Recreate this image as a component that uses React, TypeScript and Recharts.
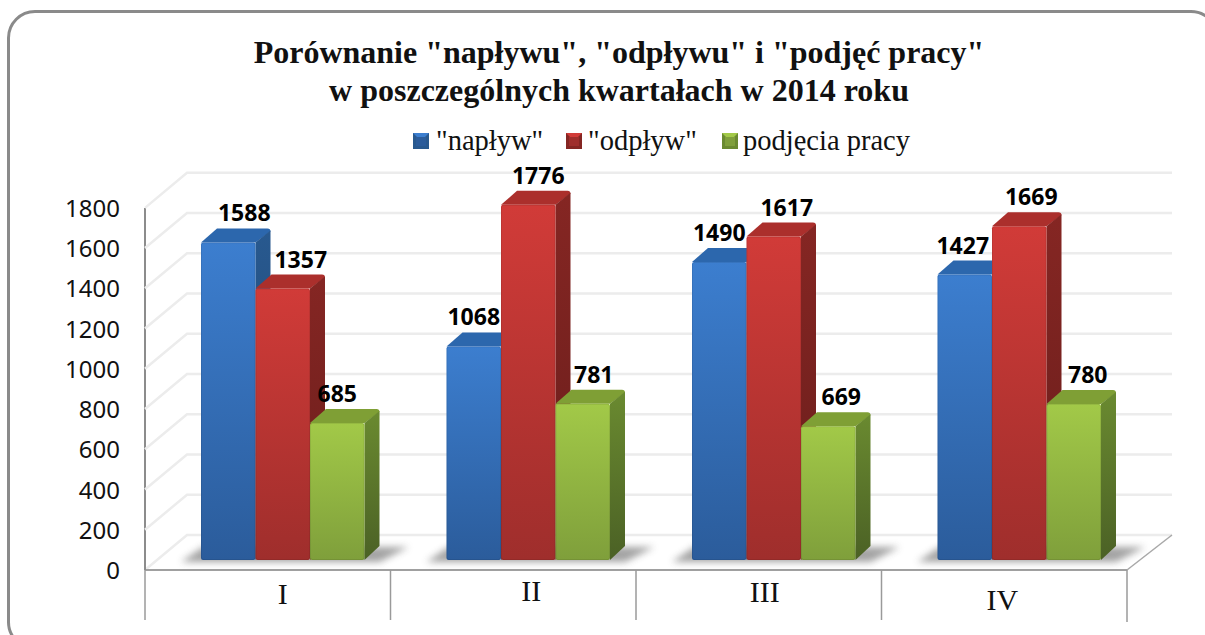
import {
  Bar,
  BarChart,
  CartesianGrid,
  LabelList,
  Legend,
  XAxis,
  YAxis,
} from 'recharts';

const quarters = ['I', 'II', 'III', 'IV'];
const inflow = [1588, 1068, 1490, 1427];
const outflow = [1357, 1776, 1617, 1669];
const jobs = [685, 781, 669, 780];
const valueTicks = [0, 200, 400, 600, 800, 1000, 1200, 1400, 1600, 1800];

const chartData = quarters.map((q, i) => ({
  quarter: q,
  inflow: inflow[i],
  outflow: outflow[i],
  jobs: jobs[i],
}));

// hand placed in the original, so the labels do not sit on a regular grid
const inflowLabelShift = [16, 0, 0, -2];
const outflowLabelShift = [18, 10, 13, 12];
const jobsLabelShift = [0, 11, 13, 14];
const quarterLabelShift = [
  { dx: 0, dy: 0 },
  { dx: 3, dy: -3 },
  { dx: -9, dy: -2 },
  { dx: -17, dy: 6 },
];

const SERIF = '"Liberation Serif", serif';
const SANS = '"Noto Sans", sans-serif';

// plot area, the 3D box is drawn around it
const FLOOR_Y = 560;
const PLOT_LEFT = 160;
const CELL = 245.5;
const FRONT_LEFT = 145;
const FRONT_RIGHT = 1127;
const BACK_LEFT = 187;
const BACK_RIGHT = 1172;
const DEPTH_X = 15;
const DEPTH_Y = 14;

const palette = {
  blue: { id: 'blue', top: '#2c67ad', side: ['#28598f', '#1f4470'], front: ['#3c7ecf', '#2b5c9b'] },
  red: { id: 'red', top: '#ab2f2c', side: ['#852623', '#691d1b'], front: ['#d13b38', '#9f2e2c'] },
  green: { id: 'green', top: '#7f9f35', side: ['#6a8a30', '#4b6125'], front: ['#a2c948', '#7f9f3b'] },
};

function wallY(y: number, floor: number) {
  return floor - (FLOOR_Y - y) * 1.006;
}

function WallLine(props: any) {
  const y = props.y1;
  const front = wallY(y, 570);
  const back = wallY(y, 535);
  const isFloor = Math.abs(y - FLOOR_Y) < 1;
  return (
    <g fill="none">
      <path d={`M${FRONT_LEFT} ${front}L${BACK_LEFT} ${back}H${BACK_RIGHT}`} stroke="#ececec" strokeWidth={2.5} />
      {isFloor && (
        <>
          <path d={`M${FRONT_RIGHT} 570L${BACK_RIGHT} 535`} stroke="#a8a8a8" strokeWidth={1.5} />
          <path d={`M${FRONT_LEFT} 570H${FRONT_RIGHT}`} stroke="#a0a0a0" strokeWidth={2} />
          <path d={`M${FRONT_LEFT} 208V570`} stroke="#8c8c8c" strokeWidth={2} />
        </>
      )}
    </g>
  );
}

function ValueTick({ y, payload }: any) {
  return (
    <text x={120} y={wallY(y, 570) + 9} textAnchor="end" fontFamily={SANS} fontSize={24} fill="#111">
      {payload.value}
    </text>
  );
}

function QuarterTick({ x, payload, index }: any) {
  const left = PLOT_LEFT - 15 + CELL * index;
  const shift = quarterLabelShift[index];
  return (
    <g>
      <path d={`M${left} 570V620`} stroke="#9a9a9a" strokeWidth={1.5} />
      {index === quarters.length - 1 && (
        <path d={`M${left + CELL} 570V622`} stroke="#9a9a9a" strokeWidth={1.5} />
      )}
      <text x={x + shift.dx} y={604 + shift.dy} textAnchor="middle" fontFamily={SERIF} fontSize={30} fill="#111">
        {payload.value}
      </text>
    </g>
  );
}

function Block3D({ x, y, width, height, colors, groupShadow }: any) {
  const bottom = y + height;
  const right = x + width;
  return (
    <g>
      {groupShadow && (
        <path
          d={`M${x - 20} ${bottom + 2}L${x + 2} ${bottom - 13}H${x + width * 3 + 44}L${x + width * 3 + 15} ${bottom + 2}Z`}
          fill="#666"
          opacity={0.6}
          filter="url(#floorBlur)"
        />
      )}
      <path
        d={`M${x} ${y}L${x + DEPTH_X + 1} ${y - DEPTH_Y}H${right + DEPTH_X - 3}Q${right + DEPTH_X} ${y - DEPTH_Y} ${right + DEPTH_X} ${y - DEPTH_Y + 3}L${right} ${y}Z`}
        fill={colors.top}
      />
      <path
        d={`M${right} ${y}L${right + DEPTH_X} ${y - DEPTH_Y + 2}V${bottom - DEPTH_Y}L${right} ${bottom}Z`}
        fill={`url(#${colors.id}Side)`}
      />
      <rect x={x} y={y} width={width} height={height} rx={2} fill={`url(#${colors.id}Front)`} />
      <rect x={x + 0.5} y={y + 0.5} width={width - 1} height={height - 1} rx={2} fill="none" stroke="#000" strokeOpacity={0.08} />
    </g>
  );
}

function valueLabel(shifts: number[]) {
  return ({ x, y, width, value, index }: any) => (
    <text
      x={x + width / 2 + shifts[index]}
      y={y - 21}
      textAnchor="middle"
      fontFamily={SANS}
      fontWeight={700}
      fontSize={23}
      fill="#000"
    >
      {value}
    </text>
  );
}

function gradients() {
  return Object.values(palette).map((c) => (
    <g key={c.id}>
      <linearGradient id={`${c.id}Front`} x1="0" y1="0" x2="0" y2="1">
        <stop offset="0" stopColor={c.front[0]} />
        <stop offset="1" stopColor={c.front[1]} />
      </linearGradient>
      <linearGradient id={`${c.id}Side`} x1="0" y1="0" x2="0" y2="1">
        <stop offset="0" stopColor={c.side[0]} />
        <stop offset="1" stopColor={c.side[1]} />
      </linearGradient>
    </g>
  ));
}

const legendSlots = [
  { icon: 413, text: 436, colors: palette.blue },
  { icon: 566, text: 588, colors: palette.red },
  { icon: 722, text: 743, colors: palette.green },
];

function LegendRow({ payload }: any) {
  return (
    <div style={{ position: 'relative', height: 40, width: 1205 }}>
      {(payload ?? []).map((entry: any, i: number) => {
        const slot = legendSlots[i];
        return (
          <div key={entry.value}>
            <svg width={16} height={16} style={{ position: 'absolute', left: slot.icon, top: 12 }}>
              <rect width={16} height={16} fill={slot.colors.side[0]} />
              <path d="M0 0H16L8 8Z" fill={slot.colors.front[0]} />
              <rect x={3} y={4} width={10} height={9} fill={slot.colors.front[1]} />
            </svg>
            <span
              style={{
                position: 'absolute',
                left: slot.text,
                top: 0,
                fontFamily: SERIF,
                fontSize: 28.5,
                lineHeight: '40px',
                color: '#111',
                whiteSpace: 'nowrap',
              }}
            >
              {entry.value}
            </span>
          </div>
        );
      })}
    </div>
  );
}

export default function App() {
  return (
    <div style={{ position: 'fixed', left: 0, top: 0, width: 1205, height: 635, overflow: 'hidden', background: '#fff' }}>
      <div
        style={{
          position: 'absolute',
          left: 7,
          top: 10,
          width: 1212,
          height: 640,
          border: '3px solid #8a8a8a',
          borderRadius: 28,
          boxSizing: 'border-box',
        }}
      />
      <div
        style={{
          position: 'absolute',
          left: 0,
          top: 33,
          width: 1238,
          textAlign: 'center',
          fontFamily: SERIF,
          fontWeight: 700,
          fontSize: 32,
          lineHeight: '38px',
          color: '#111',
        }}
      >
        Porównanie "napływu", "odpływu" i "podjęć pracy"
        <br />w poszczególnych kwartałach w 2014 roku
      </div>
      <div style={{ position: 'absolute', left: 0, top: 0 }}>
        <BarChart
          width={1205}
          height={635}
          data={chartData}
          margin={{ top: 160, right: 63, bottom: 25, left: 100 }}
          barGap={0}
          barCategoryGap="16.5%"
          barSize={54.5}
        >
          <defs>
            {gradients()}
            <filter id="floorBlur" x="-10%" y="-50%" width="120%" height="200%">
              <feGaussianBlur stdDeviation="3.5" />
            </filter>
          </defs>
          <CartesianGrid vertical={false} horizontal={(p: any) => <WallLine key={p.index} {...p} />} />
          <XAxis
            dataKey="quarter"
            height={50}
            axisLine={false}
            tickLine={false}
            interval={0}
            tick={(p: any) => <QuarterTick {...p} />}
          />
          <YAxis
            width={60}
            domain={[0, 1800]}
            ticks={valueTicks}
            interval={0}
            axisLine={false}
            tickLine={false}
            tick={(p: any) => <ValueTick {...p} />}
          />
          <Legend
            verticalAlign="top"
            wrapperStyle={{ position: 'absolute', left: 0, top: 121, width: 1205 }}
            content={(p: any) => <LegendRow {...p} />}
          />
          <Bar
            dataKey="inflow"
            name={'"napływ"'}
            isAnimationActive={false}
            shape={(p: any) => <Block3D {...p} colors={palette.blue} groupShadow />}
          >
            <LabelList dataKey="inflow" content={valueLabel(inflowLabelShift)} />
          </Bar>
          <Bar
            dataKey="outflow"
            name={'"odpływ"'}
            isAnimationActive={false}
            shape={(p: any) => <Block3D {...p} colors={palette.red} />}
          >
            <LabelList dataKey="outflow" content={valueLabel(outflowLabelShift)} />
          </Bar>
          <Bar
            dataKey="jobs"
            name="podjęcia pracy"
            isAnimationActive={false}
            shape={(p: any) => <Block3D {...p} colors={palette.green} />}
          >
            <LabelList dataKey="jobs" content={valueLabel(jobsLabelShift)} />
          </Bar>
        </BarChart>
      </div>
    </div>
  );
}
